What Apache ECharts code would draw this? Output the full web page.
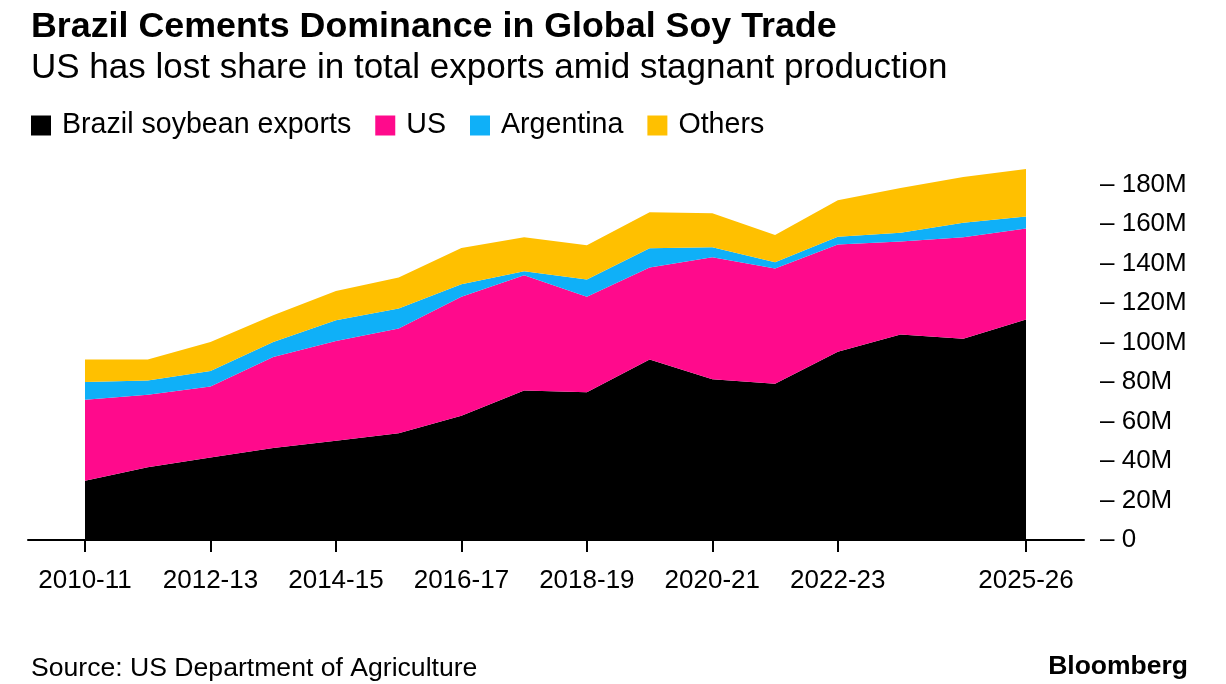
<!DOCTYPE html>
<html>
<head>
<meta charset="utf-8">
<script src="https://cdn.jsdelivr.net/npm/echarts@6/dist/echarts.min.js"></script>
<style>
html,body{margin:0;padding:0;background:#fff;}
#chart{width:1226px;height:684px;}
</style>
</head>
<body>
<div id="chart"></div>
<script>
const seasons = ['2010-11','2011-12','2012-13','2013-14','2014-15','2015-16','2016-17','2017-18','2018-19','2019-20','2020-21','2021-22','2022-23','2023-24','2024-25','2025-26'];
const labeledSeasons = ['2010-11','2012-13','2014-15','2016-17','2018-19','2020-21','2022-23','2025-26'];
const brazil = [30.0, 36.8, 41.8, 46.6, 50.3, 54.1, 63.0, 75.7, 74.9, 91.5, 81.5, 79.2, 95.4, 104.1, 102.0, 111.7];
const us = [41.0, 36.8, 36.0, 46.1, 50.5, 53.0, 60.2, 58.5, 48.3, 46.6, 61.7, 58.4, 54.3, 47.1, 51.4, 46.1];
const argentina = [9.0, 7.2, 7.8, 7.6, 10.5, 10.2, 6.4, 2.0, 8.8, 9.7, 5.1, 3.1, 4.0, 4.5, 7.4, 6.1];
const others = [11.4, 10.6, 14.7, 13.6, 14.9, 15.7, 18.4, 17.2, 17.3, 18.3, 17.3, 13.8, 18.5, 22.6, 23.1, 24.1];
const seriesNames = ['Brazil soybean exports', 'US', 'Argentina', 'Others'];
const yTickLabels = ['0','20M','40M','60M','80M','100M','120M','140M','160M','180M'];

const FONT = '"Liberation Sans", Arial, Helvetica, sans-serif';
const colors = ['#000000', '#ff0a8c', '#0fb0f8', '#ffc000'];
const showIdx = (i) => labeledSeasons.indexOf(seasons[i]) >= 0;

const chart = echarts.init(document.getElementById('chart'), null, {renderer: 'canvas'});
const values = [brazil, us, argentina, others];

chart.setOption({
  animation: false,
  backgroundColor: '#ffffff',
  textStyle: {fontFamily: FONT},
  title: [
    {text: 'Brazil Cements Dominance in Global Soy Trade', left: 26, top: 4,
     textStyle: {fontFamily: FONT, fontSize: 35.8, fontWeight: 'bold', color: '#000'}},
    {text: 'US has lost share in total exports amid stagnant production', left: 26, top: 46,
     textStyle: {fontFamily: FONT, fontSize: 35, fontWeight: 'normal', color: '#000'}},
    {text: 'Source: US Department of Agriculture', left: 26, top: 650,
     textStyle: {fontFamily: FONT, fontSize: 26.6, fontWeight: 'normal', color: '#000'}},
    {text: 'Bloomberg', right: 33, top: 648,
     textStyle: {fontFamily: FONT, fontSize: 26.5, fontWeight: 'bold', color: '#000'}}
  ],
  legend: {
    left: 26, top: 106,
    icon: 'rect', itemWidth: 20, itemHeight: 20, itemGap: 24,
    data: seriesNames,
    textStyle: {fontFamily: FONT, fontSize: 28.6, color: '#000', padding: [0, 0, 0, 6]}
  },
  grid: [
    {left: 85, right: 200, top: 165, bottom: 144, containLabel: false},
    {left: 28, right: 142, top: 165, bottom: 144, containLabel: false}
  ],
  xAxis: [
    {
      type: 'category', gridIndex: 0, data: seasons, boundaryGap: false,
      axisLine: {show: false},
      axisTick: {show: true, interval: (i) => showIdx(i), alignWithLabel: true, length: 12,
                 lineStyle: {color: '#000', width: 2}},
      axisLabel: {interval: (i) => showIdx(i), margin: 28, fontSize: 26, color: '#000', fontFamily: FONT},
      splitLine: {show: false}
    },
    {
      type: 'value', gridIndex: 1, min: 0, max: 1,
      axisLine: {show: true, onZero: false, lineStyle: {color: '#000', width: 2}},
      axisTick: {show: false}, axisLabel: {show: false}, splitLine: {show: false}
    }
  ],
  yAxis: [
    {
      type: 'value', gridIndex: 0, position: 'right', min: 0, max: 190, interval: 20,
      axisLine: {show: false}, axisTick: {show: false}, splitLine: {show: false},
      axisLabel: {
        showMaxLabel: false, margin: 74, fontSize: 26, color: '#000', fontFamily: FONT, align: 'left',
        formatter: (v) => {
          const idx = Math.round(v / 20);
          return (idx < yTickLabels.length && v % 20 === 0) ? '\u2013 ' + yTickLabels[idx] : '';
        }
      }
    },
    {
      type: 'value', gridIndex: 1, min: 0, max: 1, show: false
    }
  ],
  series: seriesNames.map((name, k) => ({
    name: name,
    type: 'line',
    xAxisIndex: 0, yAxisIndex: 0,
    stack: 'total',
    data: values[k],
    color: colors[k],
    itemStyle: {color: colors[k]},
    lineStyle: {width: 0, color: colors[k]},
    areaStyle: {color: colors[k], opacity: 1},
    symbol: 'none', showSymbol: false,
    smooth: false,
    emphasis: {disabled: true},
    z: 2
  }))
});
</script>
</body>
</html>
